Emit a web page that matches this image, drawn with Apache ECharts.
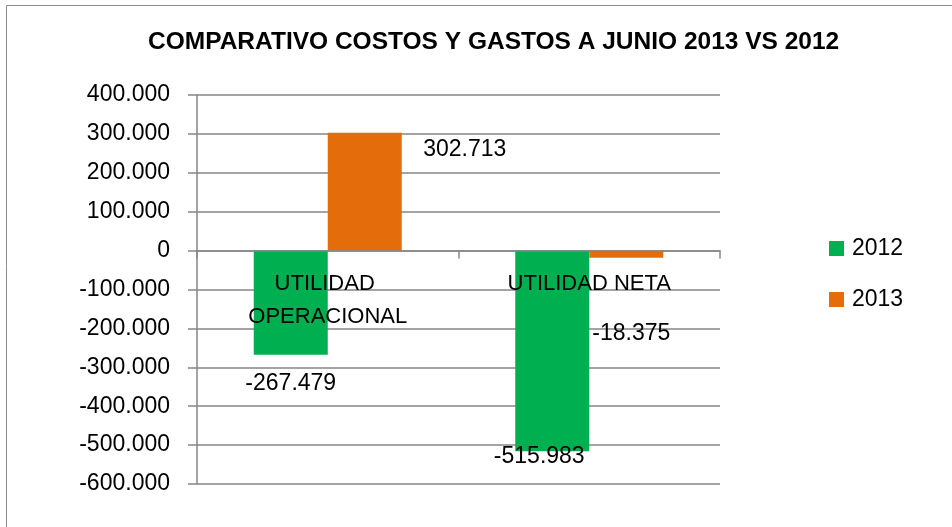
<!DOCTYPE html>
<html>
<head>
<meta charset="utf-8">
<script src="https://cdn.jsdelivr.net/npm/echarts@6/dist/echarts.min.js"></script>
<style>
  html, body { margin: 0; padding: 0; background: #fff; }
  #chart { width: 952px; height: 527px; }
</style>
</head>
<body>
<div id="chart"></div>
<script>
const categories = ['UTILIDAD OPERACIONAL', 'UTILIDAD NETA']
const values2012 = [-267479, -515983]
const values2013 = [302713, -18375]
const seriesNames = ['2012', '2013']
const yMin = -600000
const yMax = 400000
const yStep = 100000

// label offsets from the bar centre, moved by hand in the original
const offsets2012 = [[0, 81], [-13, 106]]
const offsets2013 = [[100, -42], [5, 79]]

const FONT = '"Liberation Sans", Arial, sans-serif'
const GRID_TOP = 95
const GRID_BOTTOM = 43
const PLOT_H = 527 - GRID_TOP - GRID_BOTTOM
// distance from plot bottom up to the zero line
const zeroShift = PLOT_H * (0 - yMin) / (yMax - yMin)

function fmt(v) {
  if (v === 0) return '0'
  const s = Math.abs(v).toString().replace(/\B(?=(\d{3})+(?!\d))/g, '.')
  return (v < 0 ? '-' : '') + s
}

function barData(values, offsets) {
  return values.map((v, i) => ({
    value: v,
    label: { offset: offsets[i] },
  }))
}

const chart = echarts.init(document.getElementById('chart'))

const labelStyle = {
  show: true,
  position: 'inside',
  color: '#000',
  fontFamily: FONT,
  fontSize: 23,
  formatter: (p) => fmt(p.value),
}

chart.setOption({
  animation: false,
  backgroundColor: '#fff',
  textStyle: { fontFamily: FONT },
  title: {
    text: 'COMPARATIVO COSTOS Y GASTOS A JUNIO 2013 VS 2012',
    left: 148,
    top: 30,
    padding: 0,
    textStyle: { fontFamily: FONT, fontSize: 24.5, fontWeight: 'bold', color: '#000' },
  },
  graphic: [{
    type: 'rect',
    shape: { x: 6.5, y: 5.5, width: 1000, height: 600 },
    style: { fill: 'none', stroke: '#8c8c8c', lineWidth: 1 },
    silent: true,
  }],
  legend: {
    orient: 'vertical',
    left: 829,
    top: 237,
    padding: 0,
    itemWidth: 15,
    itemHeight: 15,
    itemGap: 28,
    icon: 'rect',
    data: seriesNames,
    textStyle: { fontFamily: FONT, fontSize: 23, color: '#000', padding: [0, 0, 0, 3] },
  },
  grid: {
    left: 197, right: 232, top: GRID_TOP, bottom: GRID_BOTTOM,
    containLabel: false, outerBoundsMode: 'none',
  },
  xAxis: {
    type: 'category',
    data: categories,
    offset: -zeroShift,
    z: 5,
    axisLine: { onZero: false, lineStyle: { color: '#868686', width: 1.5 } },
    axisTick: { show: true, length: 8, lineStyle: { color: '#868686', width: 1.5 } },
    axisLabel: {
      color: '#000',
      fontFamily: FONT,
      fontSize: 22,
      lineHeight: 33,
      margin: 17,
      width: 220,
      overflow: 'break',
      interval: 0,
    },
  },
  yAxis: {
    type: 'value',
    min: yMin,
    max: yMax,
    interval: yStep,
    axisLine: { show: true, lineStyle: { color: '#868686', width: 1.5 } },
    axisTick: { show: true, length: 9, lineStyle: { color: '#868686', width: 1.5 } },
    splitLine: { show: true, lineStyle: { color: '#868686', width: 1.5 } },
    axisLabel: {
      color: '#000',
      fontFamily: FONT,
      fontSize: 23,
      margin: 27,
      formatter: fmt,
    },
  },
  series: [
    {
      name: seriesNames[0],
      type: 'bar',
      barWidth: 74,
      barGap: '0%',
      itemStyle: { color: '#00B050' },
      label: labelStyle,
      data: barData(values2012, offsets2012),
    },
    {
      name: seriesNames[1],
      type: 'bar',
      barWidth: 74,
      barGap: '0%',
      itemStyle: { color: '#E46C0A' },
      label: labelStyle,
      data: barData(values2013, offsets2013),
    },
  ],
})
</script>
</body>
</html>
